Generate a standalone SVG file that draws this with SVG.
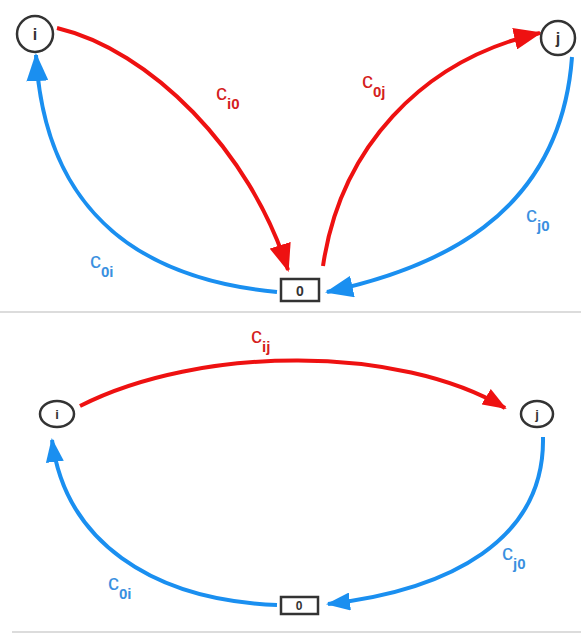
<svg xmlns="http://www.w3.org/2000/svg" width="581" height="634" viewBox="0 0 581 634">
<defs>
<marker id="ar" markerUnits="userSpaceOnUse" markerWidth="28" markerHeight="22" refX="26" refY="11" orient="auto"><path d="M0,0 L28,11 L0,22 z" fill="#ee1111"/></marker>
<marker id="ab" markerUnits="userSpaceOnUse" markerWidth="28" markerHeight="22" refX="26" refY="11" orient="auto"><path d="M0,0 L28,11 L0,22 z" fill="#1a8ff0"/></marker>
<marker id="ar2" markerUnits="userSpaceOnUse" markerWidth="24" markerHeight="18" refX="22" refY="9" orient="auto"><path d="M0,0 L24,9 L0,18 z" fill="#ee1111"/></marker>
<marker id="ab2" markerUnits="userSpaceOnUse" markerWidth="24" markerHeight="18" refX="22" refY="9" orient="auto"><path d="M0,0 L24,9 L0,18 z" fill="#1a8ff0"/></marker>
</defs>
<style>
.n{fill:#fff;stroke:#333;stroke-width:2.5}
.t{font-family:"Liberation Sans",Arial,sans-serif;font-weight:bold;fill:#333;text-anchor:middle}
.r{fill:none;stroke:#ee1111;stroke-width:4}
.b{fill:none;stroke:#1a8ff0;stroke-width:4}
.lr{font-family:"Liberation Sans",Arial,sans-serif;fill:#d42020;font-size:22px}
.lb{font-family:"Liberation Sans",Arial,sans-serif;fill:#3a90e0;font-size:22px}
.s{font-size:15px;font-weight:bold}
.sep{stroke:#d0d0d0;stroke-width:1.5}
</style>
<rect width="581" height="634" fill="#fff"/>
<line class="sep" x1="0" y1="312" x2="581" y2="312"/>
<line class="sep" x1="12" y1="632" x2="581" y2="632"/>
<g id="connectors">
<path class="r" d="M57,28 C150,50 250,150 288,270" marker-end="url(#ar)"/>
<path class="r" d="M323,266 C340,150 420,60 540,33" marker-end="url(#ar)"/>
<path class="b" d="M277,292 C150,280 45,220 36,55" marker-end="url(#ab)"/>
<path class="b" d="M572,57 C560,220 430,270 327,292" marker-end="url(#ab)"/>
<path class="r" d="M80,406 C200,345 400,345 505,408" marker-end="url(#ar2)"/>
<path class="b" d="M277,605 C150,600 65,540 52,440" marker-end="url(#ab2)"/>
<path class="b" d="M543,437 C545,540 450,590 328,604" marker-end="url(#ab2)"/>
</g>
<g id="labels">
<text class="lr" x="216" y="100">c<tspan class="s" dy="9">i0</tspan></text>
<text class="lr" x="362" y="88">c<tspan class="s" dy="9">0j</tspan></text>
<text class="lb" x="526" y="222">c<tspan class="s" dy="9">j0</tspan></text>
<text class="lb" x="90" y="268">c<tspan class="s" dy="9">0i</tspan></text>
<text class="lr" x="251" y="343">c<tspan class="s" dy="9">ij</tspan></text>
<text class="lb" x="108" y="590">c<tspan class="s" dy="9">0i</tspan></text>
<text class="lb" x="502" y="560">c<tspan class="s" dy="9">j0</tspan></text>
</g>
<g id="node-i-top"><circle class="n" cx="35" cy="34" r="18"/><text class="t" x="35" y="40" font-size="16">i</text></g>
<g id="node-j-top"><circle class="n" cx="558" cy="38" r="17"/><text class="t" x="558" y="44" font-size="16">j</text></g>
<g id="node-0-top"><rect class="n" x="281" y="279" width="38" height="22"/><text class="t" x="300" y="296" font-size="14">0</text></g>
<g id="node-i-bottom"><ellipse class="n" cx="57" cy="414" rx="17" ry="13"/><text class="t" x="57" y="419" font-size="13">i</text></g>
<g id="node-j-bottom"><ellipse class="n" cx="537" cy="414" rx="16" ry="13"/><text class="t" x="537" y="419" font-size="13">j</text></g>
<g id="node-0-bottom"><rect class="n" x="281" y="597" width="37" height="17"/><text class="t" x="299" y="610" font-size="12">0</text></g>
</svg>
